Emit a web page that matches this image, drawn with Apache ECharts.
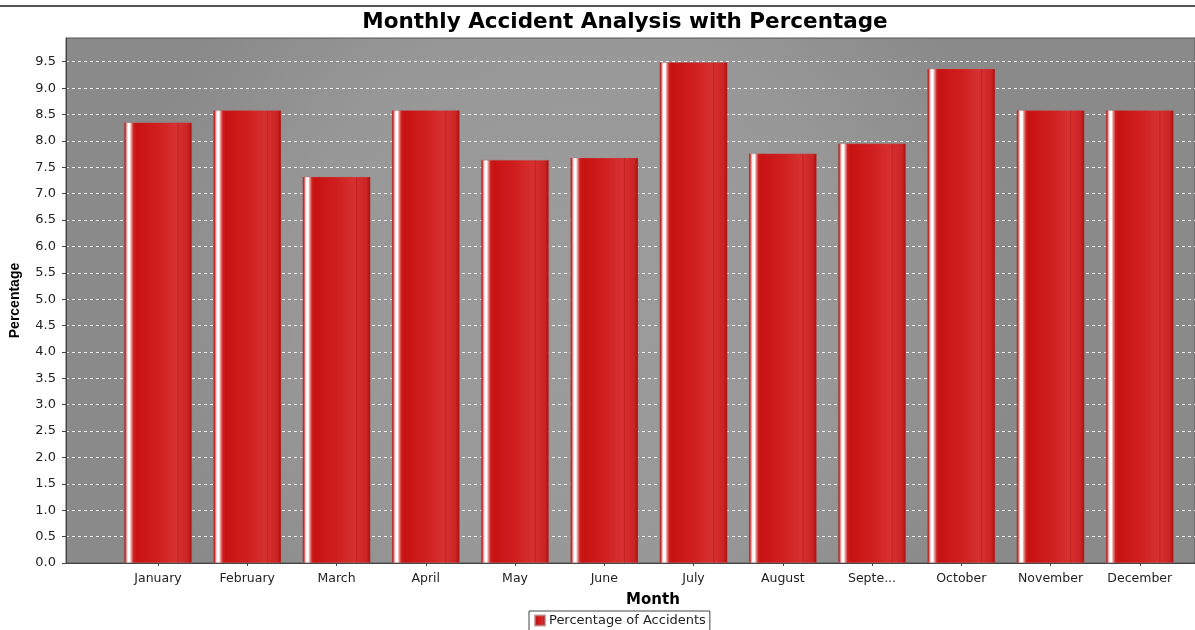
<!DOCTYPE html>
<html>
<head>
<meta charset="utf-8">
<script src="https://cdn.jsdelivr.net/npm/echarts@6/dist/echarts.min.js"></script>
<style>
  html, body { margin: 0; padding: 0; background: #ffffff; }
  #chart { width: 1195px; height: 630px; }
</style>
</head>
<body>
<div id="chart"></div>
<script>
// Monthly share of accidents (%)
const months = ['January', 'February', 'March', 'April', 'May', 'June',
                'July', 'August', 'Septe...', 'October', 'November', 'December'];
const percentages = [8.35, 8.58, 7.32, 8.58, 7.64, 7.68, 9.49, 7.76, 7.95, 9.37, 8.58, 8.58];
const seriesName = 'Percentage of Accidents';
const yMin = 0;
const yMax = 9.95;
const yStep = 0.5;

const FONT = 'DejaVu Sans';

// glossy red cylinder look for each bar
const barFill = new echarts.graphic.LinearGradient(0, 0, 1, 0, [
  { offset: 0.00, color: '#a00a0a' },
  { offset: 0.02, color: '#c83030' },
  { offset: 0.045, color: '#f4c8c8' },
  { offset: 0.06, color: '#ffffff' },
  { offset: 0.085, color: '#ffffff' },
  { offset: 0.105, color: '#eaa0a0' },
  { offset: 0.14, color: '#cc2020' },
  { offset: 0.18, color: '#c81212' },
  { offset: 0.50, color: '#d01e1e' },
  { offset: 0.78, color: '#d63232' },
  { offset: 0.795, color: '#c41e1e' },
  { offset: 0.81, color: '#d42e2e' },
  { offset: 0.94, color: '#cc2424' },
  { offset: 1.00, color: '#a60c0c' }
]);

// plot background: mid grey, slightly darker toward the corners
const plotFill = new echarts.graphic.RadialGradient(0.45, 0.5, 0.85, [
  { offset: 0, color: '#9c9c9c' },
  { offset: 0.6, color: '#989898' },
  { offset: 1, color: '#8a8a8a' }
]);

const chart = echarts.init(document.getElementById('chart'), null, { renderer: 'canvas' });

chart.setOption({
  animation: false,
  backgroundColor: '#ffffff',
  title: [
    {
      text: 'Monthly Accident Analysis with Percentage',
      left: 620,
      textAlign: 'center',
      top: 6,
      textStyle: { fontFamily: FONT, fontWeight: 'bold', fontSize: 21.5, color: '#000000' }
    },
    {
      // x-axis title, centred under the full plot width
      text: 'Month',
      left: 648,
      textAlign: 'center',
      top: 588,
      textStyle: { fontFamily: FONT, fontWeight: 'bold', fontSize: 15, color: '#000000' }
    }
  ],
  graphic: [{
    type: 'line',
    shape: { x1: 0, y1: 6, x2: 1195, y2: 6 },
    style: { stroke: '#1a1a1a', lineWidth: 1.5 }
  }],
  legend: {
    left: 529,
    top: 611,
    data: [seriesName],
    itemWidth: 10,
    itemHeight: 10,
    itemGap: 4,
    padding: [3, 4, 6, 5],
    borderColor: '#444444',
    borderWidth: 1,
    icon: 'rect',
    textStyle: { fontFamily: FONT, fontSize: 13, color: '#222222', padding: [0, 0, 0, -1] }
  },
  grid: [
    { // plot area with frame, gridlines and value axis
      left: 66, right: 0, top: 38, bottom: 67,
      show: true,
      backgroundColor: plotFill,
      borderColor: '#555555',
      borderWidth: 1
    },
    { // category bands for the bars
      left: 113.4, right: 10.6, top: 38, bottom: 67
    }
  ],
  xAxis: [
    {
      gridIndex: 0,
      type: 'value',
      min: 0, max: 1,
      offset: 3,
      axisLine: { show: true, lineStyle: { color: '#444444', width: 1 } },
      axisTick: { show: false },
      axisLabel: { show: false },
      splitLine: { show: false }
    },
    {
      gridIndex: 1,
      type: 'category',
      data: months,
      offset: 3,
      axisLine: { show: false },
      axisTick: { show: true, alignWithLabel: true, length: 3, lineStyle: { color: '#444444' } },
      axisLabel: { fontFamily: FONT, fontSize: 12.5, color: '#222222', margin: 6, interval: 0 },
      splitLine: { show: false }
    }
  ],
  yAxis: [
    {
      gridIndex: 0,
      type: 'value',
      min: yMin, max: yMax, interval: yStep,
      offset: 4,
      axisLine: { show: true, lineStyle: { color: '#444444', width: 1 } },
      axisTick: { show: true, length: 4, lineStyle: { color: '#444444' } },
      axisLabel: {
        fontFamily: FONT, fontSize: 13, color: '#222222', margin: 6,
        showMaxLabel: false,
        formatter: v => v.toFixed(1)
      },
      splitLine: {
        show: true, showMinLine: false, showMaxLine: false,
        lineStyle: { color: '#eeeeee', type: [3, 3], width: 1 }
      },
      name: 'Percentage',
      nameLocation: 'middle',
      nameRotate: 90,
      nameGap: 40,
      nameTextStyle: { fontFamily: 'Liberation Sans', fontWeight: 'bold', fontSize: 14, color: '#000000' }
    },
    {
      gridIndex: 1,
      type: 'value',
      min: yMin, max: yMax, interval: yStep,
      show: false,
      splitLine: { show: false }
    }
  ],
  series: [{
    name: seriesName,
    type: 'bar',
    xAxisIndex: 1,
    yAxisIndex: 1,
    data: percentages,
    barWidth: 68,
    itemStyle: {
      color: barFill,
      borderColor: 'rgba(170,110,110,0.6)',
      borderWidth: 0.6
    }
  }]
});
</script>
</body>
</html>
